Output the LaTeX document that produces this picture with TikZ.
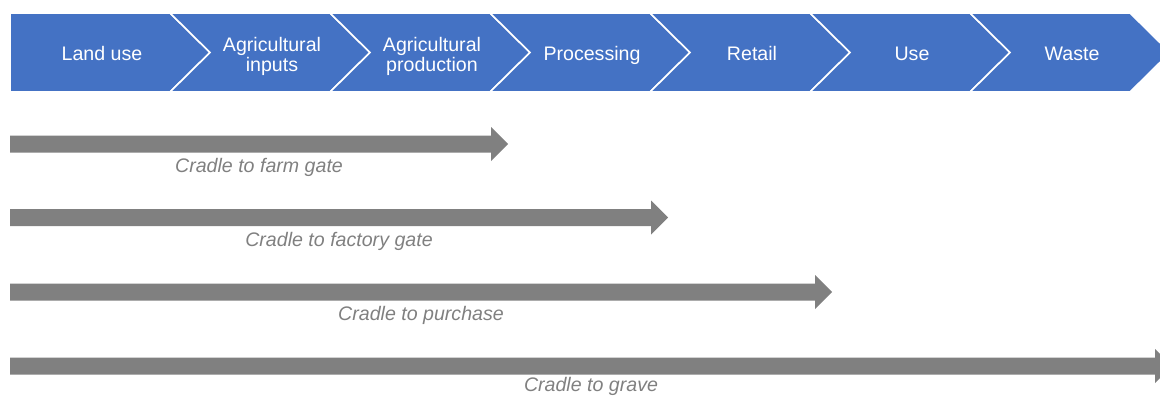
\documentclass[tikz,border=0pt]{standalone}
\usepackage{fontspec}
\usepackage{tikz}
\newfontfamily\zarial{Liberation Sans}
\definecolor{zblue}{HTML}{4472C4}
\definecolor{zgrey}{HTML}{808080}
\def\zfont{\zarial\fontsize{14.7}{15}\selectfont}
\begin{document}
\begin{tikzpicture}[x=.75pt, y=-.75pt, zchev/.style={fill=zblue, draw=white, line width=1.2pt, line join=miter}, ztxt/.style={text=white, align=center, font=\zfont, inner sep=0}, zbar/.style={fill=zgrey}, zlab/.style={text=zgrey, font=\zfont\itshape, anchor=base, inner sep=0}]
\useasboundingbox (0,0) rectangle (1160,396);
\draw[zchev] (10,13) -- (170,13) -- (210,52.5) -- (170,92) -- (10,92) -- cycle;
\foreach \x in {170,330,...,970}{\draw[zchev] (\x,13) -- ++(160,0) -- ++(40,39.5) -- ++(-40,39.5) -- ++(-160,0) -- ++(40,-39.5) -- cycle;}
\foreach \n/\x/\t in {land/102/Land use, proc/592/Processing, retail/752/Retail, use/912/Use, waste/1072/Waste}{\node[ztxt, anchor=base] (\n) at (\x,60) {\t};}
\foreach \n/\x/\t in {inputs/272/{Agricultural\\inputs}, prod/432/{Agricultural\\production}}{\node[ztxt] (\n) at (\x,56) {\t};}
\foreach \n/\e/\y/\d/\t in {farm/508/144/28.5/Cradle to farm gate, factory/668/217.5/28.5/Cradle to factory gate, purchase/832/292/28.5/Cradle to purchase, grave/1172/366/25/Cradle to grave}{
  \fill[zbar] (10,\y-8.5) -- (\e-17,\y-8.5) -- (\e-17,\y-17) -- (\e,\y) -- (\e-17,\y+17) -- (\e-17,\y+8.5) -- (10,\y+8.5) -- cycle;
  \node[zlab] (\n) at ({(10+\e)/2},\y+\d) {\t};}
\end{tikzpicture}
\end{document}
